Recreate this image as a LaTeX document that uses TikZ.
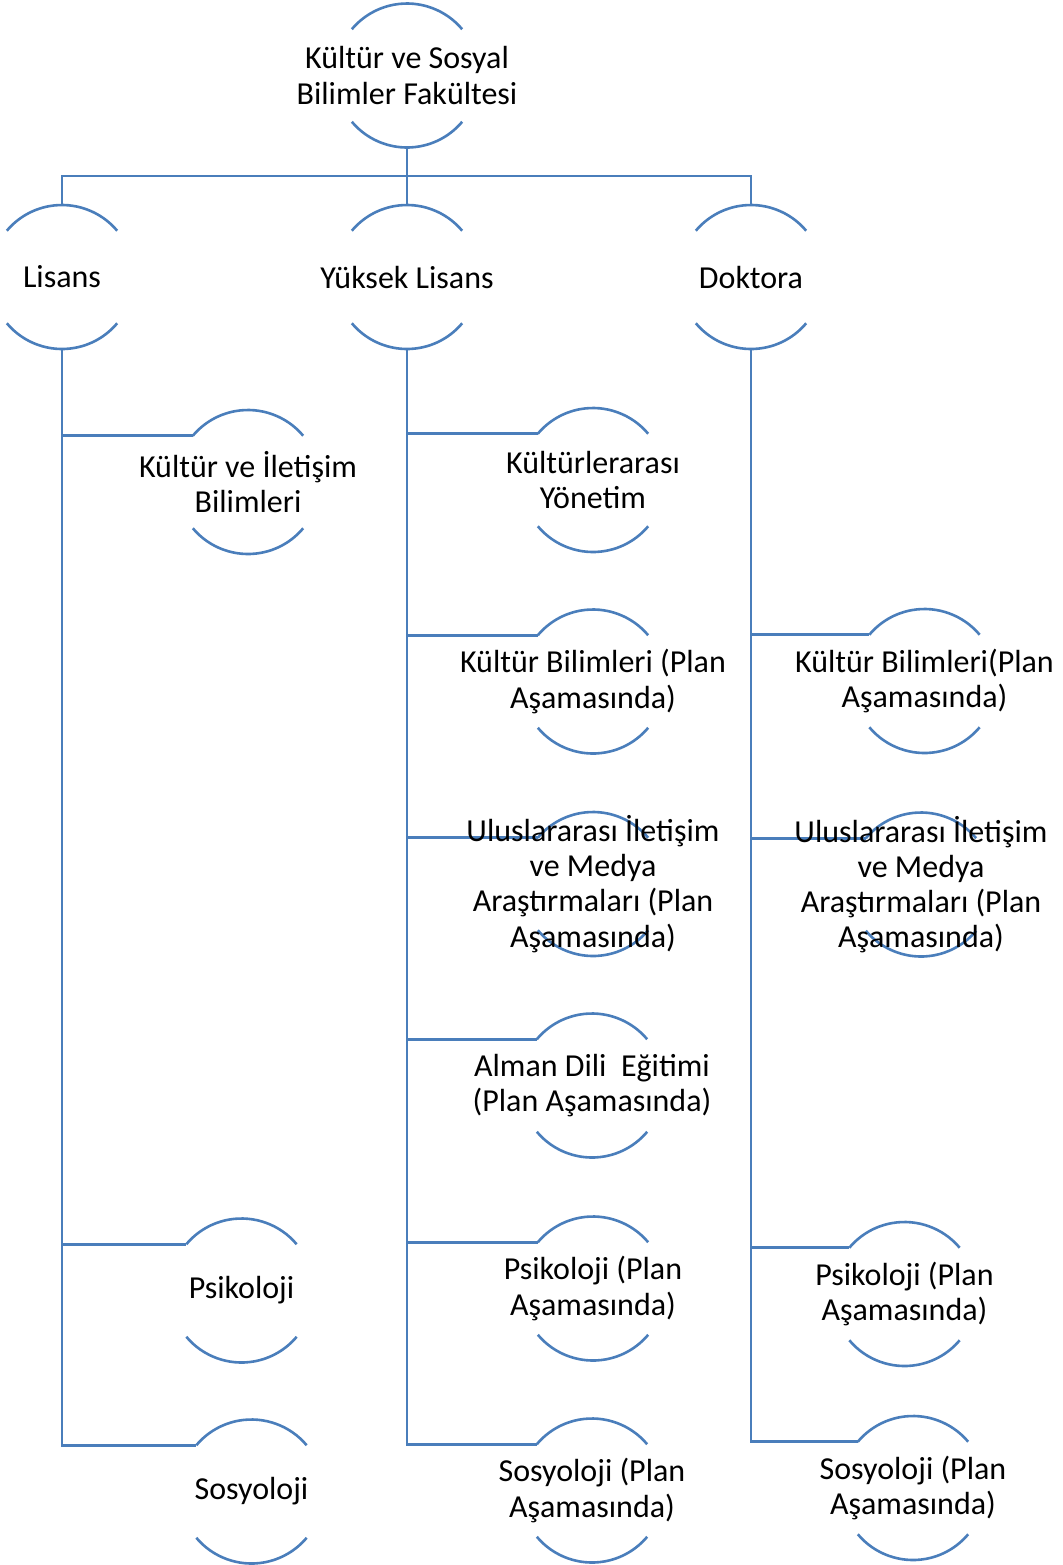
\documentclass[tikz,border=0pt]{standalone}
\usepackage{fontspec}
\setmainfont{Carlito}
\definecolor{linkblue}{HTML}{4A7EBB}
\begin{document}
\begin{tikzpicture}[x=0.5pt,y=-0.5pt,
  unit/.style={circle, minimum size=72pt, inner sep=0pt, outer sep=0pt},
  caption/.style={align=center, font=\fontsize{16}{17.6}\selectfont, text=black},
  wire/.style={draw=linkblue, line width=1.3pt},
  rim/.style={draw=linkblue, line width=1.3pt}]
\useasboundingbox (0,0) rectangle (1062,1565);

% faculty and degree levels
\node[unit] (top) at (407,75.5) {};
\node[unit] (lis) at (62,277) {};
\node[unit] (yl)  at (407,277) {};
\node[unit] (dok) at (751,277) {};

% Lisans programmes
\node[unit] (kib)  at (248,482) {};
\node[unit] (lpsi) at (241.5,1290.5) {};
\node[unit] (lsos) at (251.5,1491.5) {};

% Yüksek Lisans programmes
\node[unit] (kyy)  at (593,480) {};
\node[unit] (kbp)  at (593,681.5) {};
\node[unit] (uim)  at (593,884) {};
\node[unit] (ald)  at (592,1085.5) {};
\node[unit] (ypsi) at (593,1288.5) {};
\node[unit] (ysos) at (592,1490.5) {};

% Doktora programmes
\node[unit] (dkb)  at (924.5,681) {};
\node[unit] (duim) at (921,884.5) {};
\node[unit] (dpsi) at (904.5,1294) {};
\node[unit] (dsos) at (913,1488) {};

% upper and lower arcs of every unit
\foreach \n in {top,lis,yl,dok,kib,lpsi,lsos,kyy,kbp,uim,ald,ypsi,ysos,dkb,duim,dpsi,dsos}{
  \draw[rim] (\n.40) arc[start angle=40, end angle=140, radius=36pt];
  \draw[rim] (\n.220) arc[start angle=220, end angle=320, radius=36pt];
}

% connectors
\coordinate (bus) at (407,176);
\draw[wire] (top.south) -- (yl.north);
\draw[wire] (lis.north) |- (bus) -| (dok.north);

\foreach \c in {kib,lpsi,lsos}{ \draw[wire] (lis.south) |- (\c.140); }
\foreach \c in {kyy,kbp,uim,ald,ypsi,ysos}{ \draw[wire] (yl.south) |- (\c.140); }
\foreach \c in {dkb,duim,dpsi,dsos}{ \draw[wire] (dok.south) |- (\c.140); }

% captions
\node[caption] at (top) {Kültür ve Sosyal\\Bilimler Fakültesi};
\node[caption] at (lis) {Lisans};
\node[caption] at (yl)  {Yüksek Lisans};
\node[caption] at (dok) {Doktora};

\node[caption] at (kib)  {Kültür ve İletişim\\Bilimleri};
\node[caption] at (lpsi) {Psikoloji};
\node[caption] at (lsos) {Sosyoloji};

\node[caption] at (kyy)  {Kültürlerarası\\Yönetim};
\node[caption] at (kbp)  {Kültür Bilimleri (Plan\\Aşamasında)};
\node[caption] at (uim)  {Uluslararası İletişim\\ve Medya\\Araştırmaları (Plan\\Aşamasında)};
\node[caption] at (ald)  {Alman Dili~~Eğitimi\\(Plan Aşamasında)};
\node[caption] at (ypsi) {Psikoloji (Plan\\Aşamasında)};
\node[caption] at (ysos) {Sosyoloji (Plan\\Aşamasında)};

\node[caption] at (dkb)  {Kültür Bilimleri(Plan\\Aşamasında)};
\node[caption] at (duim) {Uluslararası İletişim\\ve Medya\\Araştırmaları (Plan\\Aşamasında)};
\node[caption] at (dpsi) {Psikoloji (Plan\\Aşamasında)};
\node[caption] at (dsos) {Sosyoloji (Plan\\Aşamasında)};
\end{tikzpicture}
\end{document}
